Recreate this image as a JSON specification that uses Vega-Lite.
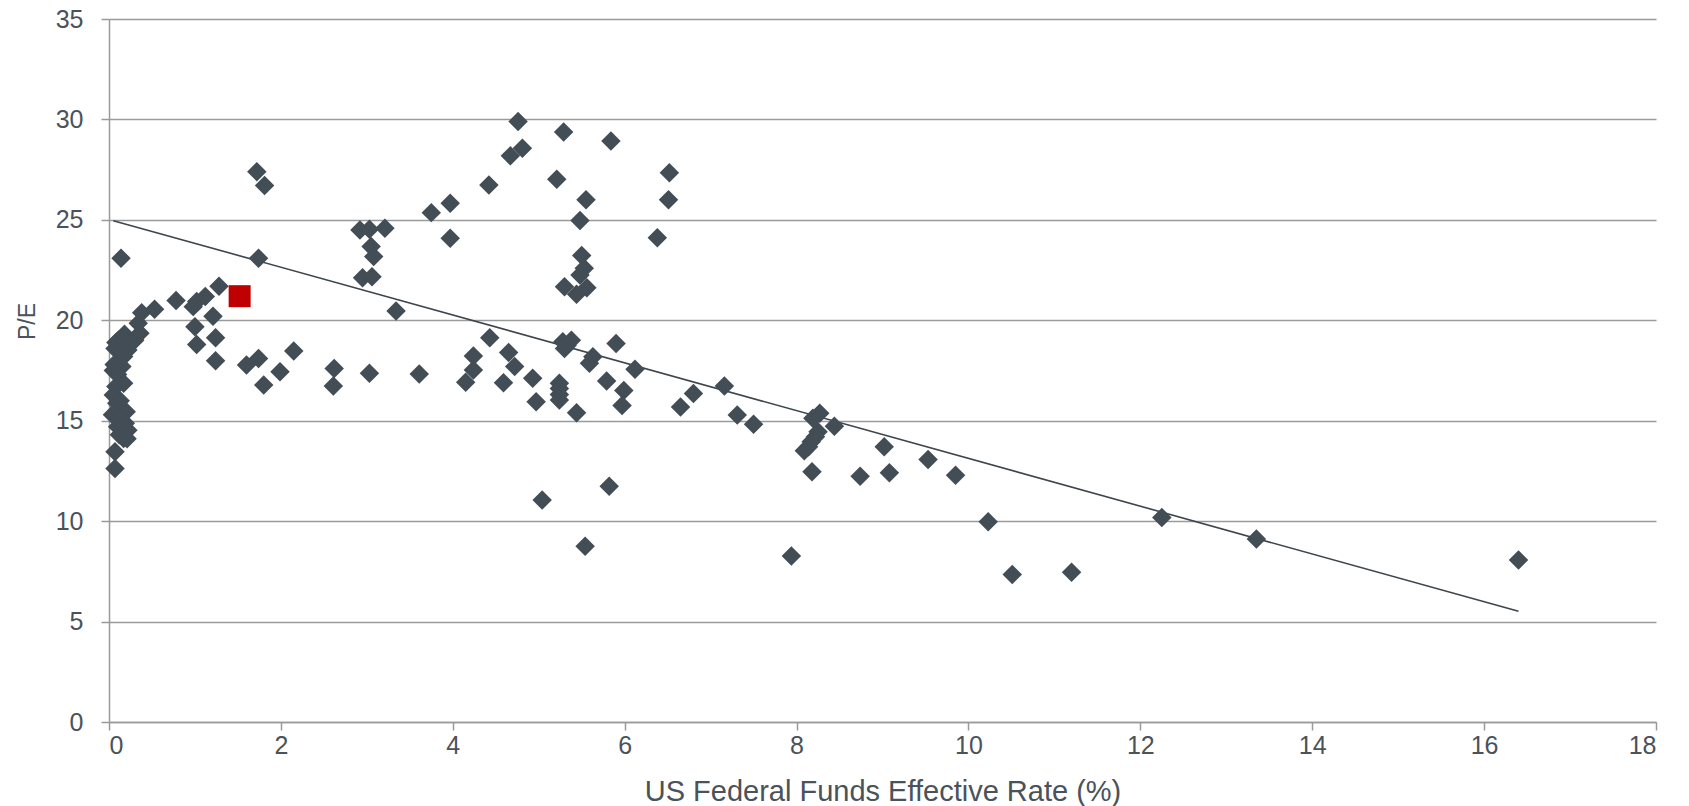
{
  "$schema": "https://vega.github.io/schema/vega-lite/v6.json",
  "width": 1547,
  "height": 703,
  "autosize": {"type": "none"},
  "padding": {"left": 109, "top": 19, "right": 33, "bottom": 84},
  "background": "white",
  "config": {
    "view": {"stroke": null},
    "font": "Liberation Sans",
    "axis": {
      "domainColor": "#9a9a9a",
      "domainWidth": 1.5,
      "tickColor": "#9a9a9a",
      "tickWidth": 1.5,
      "tickSize": 8,
      "gridColor": "#9a9a9a",
      "gridWidth": 1.5,
      "labelFont": "Liberation Sans",
      "labelFontSize": 25,
      "labelColor": "#4a525a",
      "titleFont": "Liberation Sans",
      "titleFontWeight": "normal",
      "titleColor": "#4a525a"
    }
  },
  "datasets": {
    "history": [
      {"rate": 0.14, "pe": 23.09}, {"rate": 0.05, "pe": 17.5}, {"rate": 0.07, "pe": 18.6},
      {"rate": 0.11, "pe": 19.0}, {"rate": 0.08, "pe": 18.9}, {"rate": 0.17, "pe": 18.2},
      {"rate": 0.22, "pe": 18.52}, {"rate": 0.15, "pe": 17.7}, {"rate": 0.17, "pe": 16.86},
      {"rate": 0.08, "pe": 16.7}, {"rate": 0.05, "pe": 16.28}, {"rate": 0.09, "pe": 15.87},
      {"rate": 0.2, "pe": 15.45}, {"rate": 0.04, "pe": 15.3}, {"rate": 0.19, "pe": 14.87},
      {"rate": 0.22, "pe": 14.53}, {"rate": 0.17, "pe": 14.12}, {"rate": 0.07, "pe": 13.45},
      {"rate": 0.07, "pe": 12.62}, {"rate": 0.3, "pe": 19.0}, {"rate": 0.36, "pe": 19.35},
      {"rate": 0.34, "pe": 19.85}, {"rate": 0.38, "pe": 20.38}, {"rate": 0.12, "pe": 18.4},
      {"rate": 0.1, "pe": 17.3}, {"rate": 0.13, "pe": 15.1}, {"rate": 0.12, "pe": 14.3},
      {"rate": 0.21, "pe": 14.1}, {"rate": 0.06, "pe": 17.8}, {"rate": 0.13, "pe": 16.0},
      {"rate": 0.1, "pe": 14.7}, {"rate": 0.18, "pe": 19.3}, {"rate": 0.25, "pe": 18.9},
      {"rate": 0.53, "pe": 20.55}, {"rate": 0.78, "pe": 20.98}, {"rate": 0.98, "pe": 20.68},
      {"rate": 1.02, "pe": 20.93}, {"rate": 1.12, "pe": 21.18}, {"rate": 1.28, "pe": 21.7},
      {"rate": 1.21, "pe": 20.2}, {"rate": 1.0, "pe": 19.68}, {"rate": 1.24, "pe": 19.13},
      {"rate": 1.02, "pe": 18.8}, {"rate": 1.24, "pe": 17.99}, {"rate": 1.72, "pe": 27.4},
      {"rate": 1.81, "pe": 26.71}, {"rate": 1.74, "pe": 23.09}, {"rate": 1.6, "pe": 17.77},
      {"rate": 1.74, "pe": 18.1}, {"rate": 1.8, "pe": 16.78}, {"rate": 1.99, "pe": 17.44},
      {"rate": 2.15, "pe": 18.47},
      {"rate": 2.62, "pe": 17.6}, {"rate": 2.61, "pe": 16.73}, {"rate": 2.92, "pe": 24.5},
      {"rate": 3.03, "pe": 24.53}, {"rate": 3.21, "pe": 24.58}, {"rate": 3.05, "pe": 23.67},
      {"rate": 3.08, "pe": 23.17}, {"rate": 2.95, "pe": 22.12}, {"rate": 3.06, "pe": 22.17},
      {"rate": 3.34, "pe": 20.46}, {"rate": 3.03, "pe": 17.36}, {"rate": 3.61, "pe": 17.33},
      {"rate": 3.75, "pe": 25.36}, {"rate": 3.97, "pe": 25.83}, {"rate": 3.97, "pe": 24.09},
      {"rate": 4.42, "pe": 26.74}, {"rate": 4.43, "pe": 19.13}, {"rate": 4.24, "pe": 18.22},
      {"rate": 4.24, "pe": 17.52}, {"rate": 4.15, "pe": 16.91},
      {"rate": 4.76, "pe": 29.9}, {"rate": 4.81, "pe": 28.57}, {"rate": 4.67, "pe": 28.19},
      {"rate": 5.29, "pe": 29.37}, {"rate": 5.84, "pe": 28.93}, {"rate": 6.52, "pe": 27.35},
      {"rate": 6.51, "pe": 26.0}, {"rate": 6.38, "pe": 24.11}, {"rate": 5.21, "pe": 27.02},
      {"rate": 5.55, "pe": 26.0}, {"rate": 5.48, "pe": 24.97}, {"rate": 5.5, "pe": 23.22},
      {"rate": 5.53, "pe": 22.59}, {"rate": 5.48, "pe": 22.26}, {"rate": 5.3, "pe": 21.67},
      {"rate": 5.44, "pe": 21.3}, {"rate": 5.56, "pe": 21.62},
      {"rate": 4.59, "pe": 16.89}, {"rate": 4.93, "pe": 17.11}, {"rate": 4.97, "pe": 15.95},
      {"rate": 4.65, "pe": 18.4}, {"rate": 4.72, "pe": 17.7}, {"rate": 5.24, "pe": 16.86},
      {"rate": 5.24, "pe": 16.6}, {"rate": 5.24, "pe": 16.3}, {"rate": 5.24, "pe": 16.03},
      {"rate": 5.44, "pe": 15.4}, {"rate": 5.28, "pe": 18.93}, {"rate": 5.38, "pe": 19.0},
      {"rate": 5.3, "pe": 18.6}, {"rate": 5.33, "pe": 18.75}, {"rate": 5.9, "pe": 18.85},
      {"rate": 5.63, "pe": 18.19}, {"rate": 5.59, "pe": 17.86}, {"rate": 6.12, "pe": 17.56},
      {"rate": 5.79, "pe": 16.98}, {"rate": 5.99, "pe": 16.5}, {"rate": 5.97, "pe": 15.76},
      {"rate": 6.65, "pe": 15.68}, {"rate": 6.8, "pe": 16.36}, {"rate": 5.04, "pe": 11.05},
      {"rate": 5.82, "pe": 11.74}, {"rate": 5.54, "pe": 8.75},
      {"rate": 7.16, "pe": 16.73}, {"rate": 7.31, "pe": 15.28}, {"rate": 7.5, "pe": 14.82},
      {"rate": 7.94, "pe": 8.27}, {"rate": 8.27, "pe": 15.37}, {"rate": 8.19, "pe": 15.12},
      {"rate": 8.44, "pe": 14.73}, {"rate": 8.25, "pe": 14.45}, {"rate": 8.22, "pe": 14.2},
      {"rate": 8.17, "pe": 13.95}, {"rate": 8.14, "pe": 13.7}, {"rate": 8.09, "pe": 13.5},
      {"rate": 8.18, "pe": 12.46}, {"rate": 8.74, "pe": 12.24}, {"rate": 9.02, "pe": 13.7},
      {"rate": 9.08, "pe": 12.41}, {"rate": 9.53, "pe": 13.07}, {"rate": 9.85, "pe": 12.29},
      {"rate": 10.23, "pe": 9.97}, {"rate": 10.51, "pe": 7.34}, {"rate": 11.2, "pe": 7.45},
      {"rate": 12.25, "pe": 10.18}, {"rate": 13.35, "pe": 9.11}, {"rate": 16.4, "pe": 8.06}
    ],
    "trend": [
      {"rate": 0.05, "pe": 24.96},
      {"rate": 16.4, "pe": 5.51}
    ],
    "current": [
      {"rate": 1.52, "pe": 21.2}
    ]
  },
  "encoding": {
    "x": {
      "field": "rate",
      "type": "quantitative",
      "scale": {"domain": [0, 18], "nice": false, "zero": true},
      "axis": {
        "title": "US Federal Funds Effective Rate (%)",
        "values": [0, 2, 4, 6, 8, 10, 12, 14, 16, 18],
        "grid": false,
        "labelPadding": 3,
        "titleFontSize": 29,
        "titleBaseline": "middle",
        "titleY": 69
      }
    },
    "y": {
      "field": "pe",
      "type": "quantitative",
      "scale": {"domain": [0, 35], "nice": false, "zero": true},
      "axis": {
        "title": "P/E",
        "values": [0, 5, 10, 15, 20, 25, 30, 35],
        "grid": true,
        "labelPadding": 18,
        "titleFontSize": 23,
        "titleAngle": -90,
        "titleBaseline": "middle",
        "titleAlign": "center",
        "titleX": -82,
        "titleY": 302
      }
    }
  },
  "layer": [
    {
      "data": {"name": "trend"},
      "mark": {"type": "line", "color": "#3d464d", "strokeWidth": 1.6},
      "encoding": {}
    },
    {
      "data": {"name": "history"},
      "mark": {"type": "point", "shape": "diamond", "filled": true, "size": 380, "color": "#434d55", "opacity": 1}
    },
    {
      "data": {"name": "current"},
      "mark": {"type": "point", "shape": "square", "filled": true, "size": 484, "color": "#c00000", "opacity": 1}
    }
  ]
}
